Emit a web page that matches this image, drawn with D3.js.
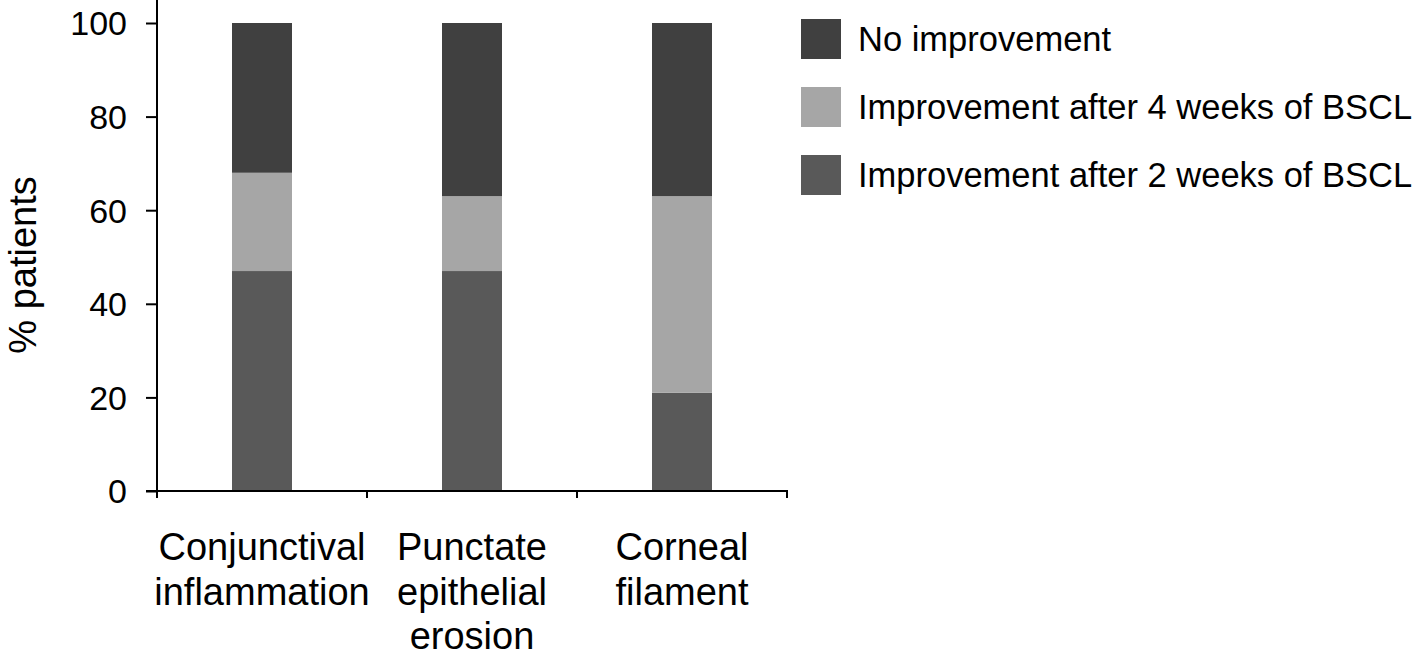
<!DOCTYPE html>
<html>
<head>
<meta charset="utf-8">
<script src="https://cdn.jsdelivr.net/npm/d3@7"></script>
<style>
  body { margin: 0; background: #fff; }
  text { font-family: "Liberation Sans", Arial, sans-serif; fill: #000; }
</style>
</head>
<body>
<div id="chart"></div>
<script>
// categories, each one split in lines for the x labels
var categories = ["Conjunctival inflammation", "Punctate epithelial erosion", "Corneal filament"];
var categoryLines = [["Conjunctival", "inflammation"], ["Punctate", "epithelial", "erosion"], ["Corneal", "filament"]];

// stacked series, bottom to top (% patients)
var seriesNames = ["Improvement after 2 weeks of BSCL", "Improvement after 4 weeks of BSCL", "No improvement"];
var after2Weeks = [47, 47, 21];
var after4Weeks = [21, 16, 42];
var noImprovement = [32, 37, 37];
var seriesColors = ["#595959", "#a6a6a6", "#404040"];

var yTicks = [0, 20, 40, 60, 80, 100];

// build rows for d3.stack
var rows = categories.map(function (c, i) {
    return {
        category: c,
        "Improvement after 2 weeks of BSCL": after2Weeks[i],
        "Improvement after 4 weeks of BSCL": after4Weeks[i],
        "No improvement": noImprovement[i]
    };
});

var W = 1418, H = 657;
var margin = { top: 23, left: 157, right: 631, bottom: 166 };
var width = W - margin.left - margin.right,
    height = H - margin.top - margin.bottom;

var svg = d3.select("#chart")
    .append("svg")
    .attr("width", W)
    .attr("height", H);

var g = svg.append("g")
    .attr("transform", "translate(" + margin.left + "," + margin.top + ")");

var x = d3.scaleBand()
    .domain(categories)
    .range([0, width])
    .paddingInner(5 / 7)
    .paddingOuter(5 / 14);

var y = d3.scaleLinear()
    .domain([0, 100])
    .range([height, 0]);

var stack = d3.stack().keys(seriesNames);
var stacked = stack(rows);

// bars
g.selectAll(".layer")
    .data(stacked)
    .enter()
    .append("g")
    .attr("class", "layer")
    .attr("fill", function (d, i) { return seriesColors[i]; })
    .selectAll("rect")
    .data(function (d) { return d; })
    .enter()
    .append("rect")
    .attr("x", function (d) { return x(d.data.category); })
    .attr("width", x.bandwidth())
    .attr("y", function (d) { return y(d[1]); })
    .attr("height", function (d) { return y(d[0]) - y(d[1]); });

// y axis
var yAxis = g.append("g")
    .call(d3.axisLeft(y)
        .tickValues(yTicks)
        .tickSize(11)
        .tickSizeOuter(0)
        .tickPadding(19));
yAxis.select(".domain").remove();
yAxis.selectAll(".tick line").attr("stroke", "#000").attr("stroke-width", 2);
yAxis.selectAll(".tick text")
    .style("font-size", "34px")
    .attr("dy", "0.35em");

// y axis line goes up to the top edge
g.append("line")
    .attr("x1", 0).attr("x2", 0)
    .attr("y1", y(0) + 1).attr("y2", -margin.top)
    .attr("stroke", "#000")
    .attr("stroke-width", 2);

// x axis line and ticks at the band boundaries
g.append("line")
    .attr("x1", -11).attr("x2", width + 1)
    .attr("y1", y(0)).attr("y2", y(0))
    .attr("stroke", "#000")
    .attr("stroke-width", 2);

var boundaries = d3.range(categories.length + 1).map(function (i) {
    return x.range()[0] + i * x.step();
});
g.selectAll(".xtick")
    .data(boundaries)
    .enter()
    .append("line")
    .attr("class", "xtick")
    .attr("x1", function (d) { return d; })
    .attr("x2", function (d) { return d; })
    .attr("y1", y(0))
    .attr("y2", y(0) + 7)
    .attr("stroke", "#000")
    .attr("stroke-width", 2);

// category labels
var catLabels = g.selectAll(".cat")
    .data(categories)
    .enter()
    .append("text")
    .attr("class", "cat")
    .attr("text-anchor", "middle")
    .style("font-size", "38px")
    .attr("transform", function (d) {
        return "translate(" + (x(d) + x.bandwidth() / 2) + "," + (height + 69) + ")";
    });
catLabels.selectAll("tspan")
    .data(function (d, i) { return categoryLines[i]; })
    .enter()
    .append("tspan")
    .attr("x", 0)
    .attr("y", function (d, i) { return i * 44.5; })
    .text(function (d) { return d; });

// y axis title
svg.append("text")
    .attr("transform", "translate(" + 36 + "," + (margin.top + height / 2 + 8) + ") rotate(-90)")
    .attr("text-anchor", "middle")
    .style("font-size", "38px")
    .text("% patients");

// legend, top entry first
var legendOrder = seriesNames.slice().reverse();
var legend = svg.append("g")
    .attr("transform", "translate(801,19)");
var item = legend.selectAll(".item")
    .data(legendOrder)
    .enter()
    .append("g")
    .attr("class", "item")
    .attr("transform", function (d, i) { return "translate(0," + (i * 68) + ")"; });
item.append("rect")
    .attr("width", 40)
    .attr("height", 40)
    .attr("fill", function (d) { return seriesColors[seriesNames.indexOf(d)]; });
item.append("text")
    .attr("x", 57)
    .attr("y", 20)
    .attr("dy", "0.35em")
    .style("font-size", "34.5px")
    .text(function (d) { return d; });
</script>
</body>
</html>
